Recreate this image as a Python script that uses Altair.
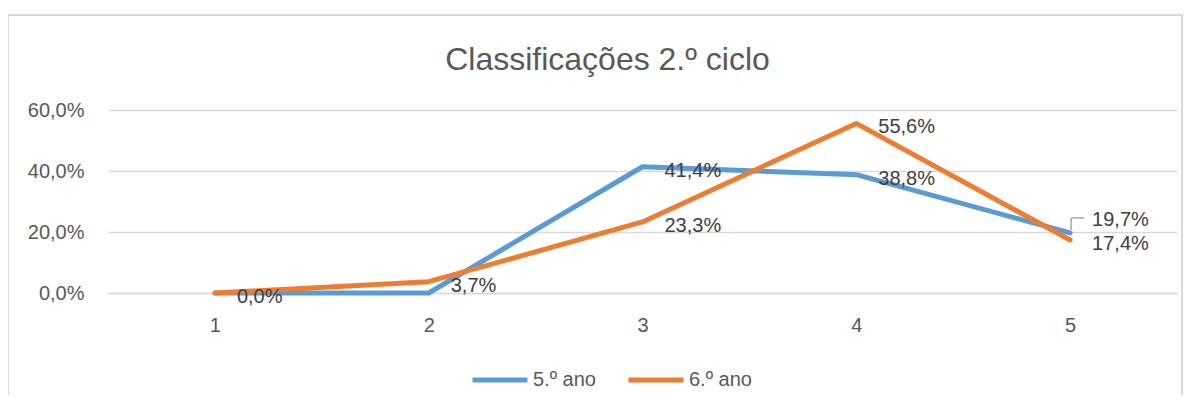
import altair as alt
import pandas as pd

categories = ["1", "2", "3", "4", "5"]
series_names = ["5.º ano", "6.º ano"]
ano5 = [0.0, 0.0, 41.4, 38.8, 19.7]
ano6 = [0.0, 3.7, 23.3, 55.6, 17.4]
show5 = [False, False, True, True, True]
show6 = [True, True, True, True, True]
colors = ["#5B9BD5", "#ED7D31"]
y_ticks = [0, 20, 40, 60]
title_text = "Classificações 2.º ciclo"

rows = []
for name, vals, shows in [(series_names[0], ano5, show5), (series_names[1], ano6, show6)]:
    for c, v, s in zip(categories, vals, shows):
        rows.append({"cat": c, "value": v, "series": name, "show": s})
df = pd.DataFrame(rows)

FONT = "Liberation Sans"
W, H = 1069, 183

x_enc = alt.X("cat:N", sort=categories,
              scale=alt.Scale(type="point", padding=0.5),
              axis=alt.Axis(title=None, labelAngle=0, ticks=False, domain=True,
                            domainColor="#D9D9D9", domainWidth=1.5, grid=False,
                            labelPadding=22, labelBaseline="top",
                            labelFont=FONT, labelFontSize=20, labelColor="#595959"))
y_enc = alt.Y("value:Q",
              scale=alt.Scale(domain=[0, 60], nice=False),
              axis=alt.Axis(title=None, values=y_ticks, ticks=False, domain=False,
                            gridColor="#D9D9D9", gridWidth=1.5,
                            labelPadding=24, labelFont=FONT, labelFontSize=20,
                            labelColor="#595959",
                            labelExpr="replace(format(datum.value, '.1f'), '.', ',') + '%'"))
color_enc = alt.Color("series:N",
                      scale=alt.Scale(domain=series_names, range=colors),
                      legend=alt.Legend(title=None, orient="none", direction="horizontal",
                                        legendX=362, legendY=240,
                                        symbolType="stroke", symbolSize=3025,
                                        symbolStrokeWidth=5, labelFont=FONT,
                                        labelFontSize=20, labelColor="#595959",
                                        labelOffset=3, columnPadding=22))

base = alt.Chart(df)

border = base.mark_rect(fillOpacity=0, stroke="#D9D9D9", strokeWidth=1.5).encode(
    x=alt.value(-100), x2=alt.value(1074), y=alt.value(-95), y2=alt.value(400)
)

lines = base.mark_line(strokeWidth=5, strokeCap="round", strokeJoin="round").encode(
    x=x_enc, y=y_enc, color=color_enc, order=alt.Order("cat:N")
)

label_fmt = "replace(format(datum.value, '.1f'), '.', ',') + '%'"
is_special = "datum.cat == '5' && datum.series == '5.º ano'"

labels = base.transform_filter("datum.show").transform_filter("!(" + is_special + ")").transform_calculate(
    txt=label_fmt
).mark_text(align="left", baseline="middle", dx=22, dy=4, font=FONT, fontSize=20,
            color="#404040").encode(x=alt.X("cat:N", sort=categories), y="value:Q", text="txt:N")

special = base.transform_filter(is_special).transform_calculate(
    txt=label_fmt
).mark_text(align="left", baseline="middle", dx=22, dy=-13, font=FONT, fontSize=20,
            color="#404040").encode(x=alt.X("cat:N", sort=categories), y="value:Q", text="txt:N")

leader_v = base.transform_filter(is_special).mark_rule(
    color="#A6A6A6", strokeWidth=1.5, xOffset=1, x2Offset=1, yOffset=-3, y2Offset=-15
).encode(x=alt.X("cat:N", sort=categories), x2="cat:N", y="value:Q", y2="value:Q")

leader_h = base.transform_filter(is_special).mark_rule(
    color="#A6A6A6", strokeWidth=1.5, xOffset=1, x2Offset=14, yOffset=-15, y2Offset=-15
).encode(x=alt.X("cat:N", sort=categories), x2="cat:N", y="value:Q", y2="value:Q")

chart = alt.layer(border, lines, leader_v, leader_h, labels, special).properties(
    width=W, height=H,
    title=alt.TitleParams(title_text, anchor="middle", dx=-35, offset=0, dy=63,
                          font=FONT, fontSize=32, fontWeight="normal", color="#595959"),
    autosize=alt.AutoSizeParams(type="none"),
    padding={"left": 100, "top": 102, "right": 8, "bottom": 102},
    background="white",
).configure_view(stroke="transparent", strokeWidth=0)

chart.save("out.html", embed_options={"renderer": "svg", "actions": False})
